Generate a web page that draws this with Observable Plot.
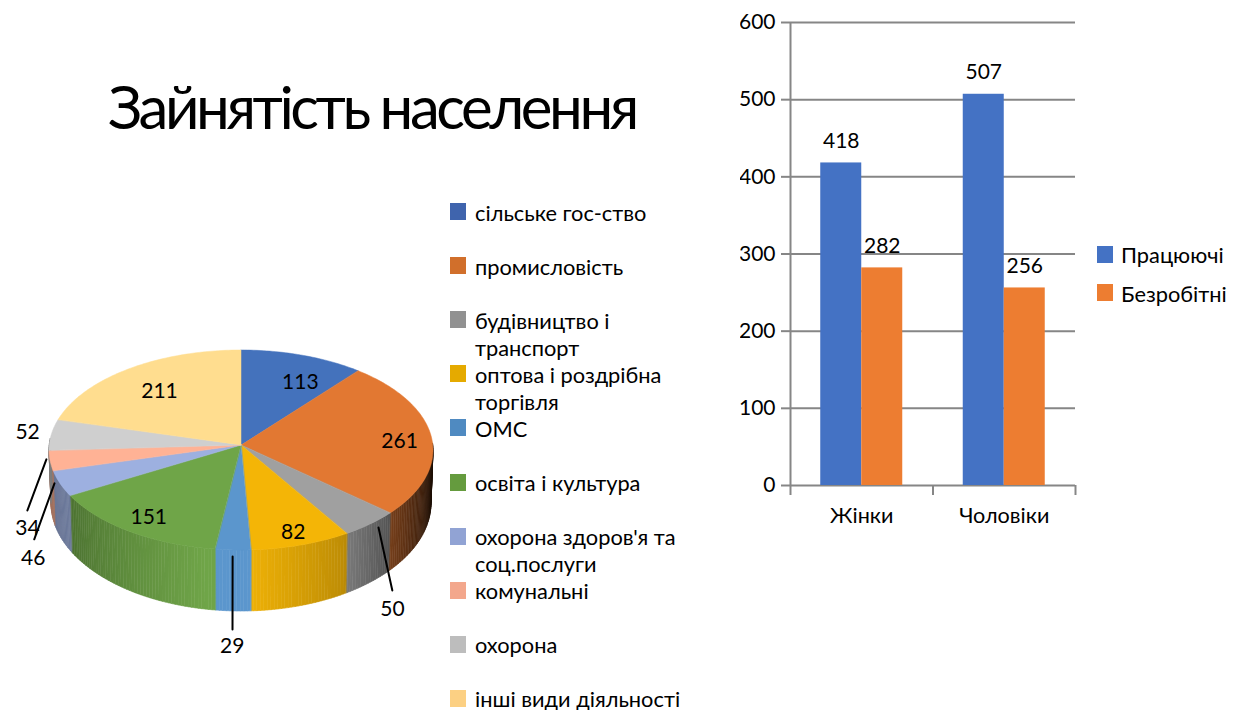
<!DOCTYPE html>
<html lang="uk">
<head>
<meta charset="utf-8">
<script src="https://cdn.jsdelivr.net/npm/d3@7"></script>
<script src="https://cdn.jsdelivr.net/npm/@observablehq/plot@0.6"></script>
<style>
  html, body { margin: 0; padding: 0; background: #fff; }
  body { position: relative; width: 1239px; height: 710px; overflow: hidden; font-family: Lato, "Open Sans", "Noto Sans", sans-serif; color: #000; }
  .abs { position: absolute; }
  #title { left: 108px; top: 68px; font-size: 60px; line-height: 76px; letter-spacing: -3.45px; white-space: nowrap; font-weight: 400; }
  .lg { position: absolute; font-size: 21.8px; line-height: 27px; white-space: nowrap; }
  .sw { position: absolute; width: 16px; height: 17px; }
  svg text { font-family: Lato, "Open Sans", "Noto Sans", sans-serif; }
</style>
</head>
<body>
<div id="title" class="abs">Зайнятість населення</div>
<div id="pie" class="abs" style="left:0;top:330px"></div>
<div id="pieLegend"></div>
<div id="bars" class="abs" style="left:740px;top:0"></div>
<div id="barLegend"></div>
<script>
// ---- Pie data ----
const sectors = ["сільське гос-ство", "промисловість", "будівництво і транспорт", "оптова і роздрібна торгівля", "ОМС", "освіта і культура", "охорона здоров'я та соц.послуги", "комунальні", "охорона", "інші види діяльності"];
const sectorLines = [["сільське гос-ство"], ["промисловість"], ["будівництво і", "транспорт"], ["оптова і роздрібна", "торгівля"], ["ОМС"], ["освіта і культура"], ["охорона здоров'я та", "соц.послуги"], ["комунальні"], ["охорона"], ["інші види діяльності"]];
const employed = [113, 261, 50, 82, 29, 151, 46, 34, 52, 211];
const topColors = ["#4472bc", "#e27832", "#a0a0a0", "#f4b506", "#5b96cd", "#6fa548", "#9db0e0", "#ffb295", "#cfcfcf", "#ffdd8f"];
const swatchColors = ["#3f64ad", "#d16f2b", "#919191", "#e5aa00", "#4f8ac1", "#659b3e", "#91a3d4", "#f3a78c", "#bdbdbd", "#fcd083"];

// ---- Bar data ----
const genders = ["Жінки", "Чоловіки"];
const working = [418, 507];
const jobless = [282, 256];
const barSeries = ["Працюючі", "Безробітні"];
const barColors = ["#4472c4", "#ed7d31"];
const yTicks = [0, 100, 200, 300, 400, 500, 600];

// ---- Label placement relative to each slice: [degrees from mid-angle, radius]
const labelPolar = [[4.5, .746], [-1.4, .828], [14.1, 1.774], [-.9, .863], [-.7, 1.96], [2.2, .826], [-22.9, 1.53], [-27, 1.36], [2.2, 1.129], [1, .728]];
const leaders = { 2: [[-2.4, 1.05], [11.1, 1.605]], 4: [[.4, 1.06], [-.6, 1.79]], 6: [[3.3, 1.028], [-17.5, 1.398]], 7: [[3, 1.02], [-20.3, 1.266]] };

// ---- Pie geometry from the values ----
const total = d3.sum(employed);
const rad = d => d * Math.PI / 180;
let run = 0;
const slices = employed.map((v, i) => {
  const a0 = run / total * 360; run += v;
  return { i, v, name: sectors[i], a0, a1: run / total * 360, mid: (a0 + run / total * 360) / 2, color: topColors[i] };
});
// slight perspective distortion of the tilted disc
const warp = d3.scaleLinear().domain([0, 40, 150, 177, 187, 240, 256, 286, 360]).range([0, -1.9, -1.8, 0, .6, 3, 2, 1.6, 0]);
const seen = a => rad(a + warp(a));
const rimTop = a => ({ x: Math.sin(seen(a)), y: -Math.cos(seen(a)) });
const rimBottom = a => ({ x: Math.sin(seen(a)) * 190 / 192, y: .53 - 1.08 * Math.cos(seen(a)) });
const polar = (s, [turn, r]) => ({ x: r * Math.sin(rad(s.mid + turn)), y: -r * Math.cos(rad(s.mid + turn)) });
const shade = d3.scaleLinear().domain([88, 100, 131, 150, 178, 190, 240, 275]).range([.1, .15, .52, .78, .98, 1, .7, .6]).clamp(true);

const topPts = slices.flatMap(s => d3.range(s.a0, s.a1, 1).concat(s.a1).map(a => ({ ...rimTop(a), name: s.name, color: s.color })));
const wallStrips = [];
for (const s of slices) {
  const from = Math.max(s.a0, 88), to = Math.min(s.a1, 275);
  if (to <= from) continue;
  const steps = d3.range(from, to, 1).concat(to);
  for (let k = 0; k + 1 < steps.length; k++) {
    const mid = (steps[k] + steps[k + 1]) / 2;
    const fill = s.i === 4 ? s.color : d3.interpolateRgb("#000", s.color)(shade(mid));
    for (const a of [steps[k], steps[k + 1]]) {
      const t = rimTop(a), b = rimBottom(a);
      wallStrips.push({ id: s.i + "-" + k, x1: t.x, y1: t.y, x2: b.x, y2: b.y, fill });
    }
  }
}
const labels = slices.map(s => ({ ...polar(s, labelPolar[s.i]), v: s.v }));
const leaderPts = Object.entries(leaders).flatMap(([i, ends]) => ends.map(e => ({ ...polar(slices[+i], e), id: i })));

document.getElementById("pie").append(Plot.plot({
  width: 440, height: 330, margin: 0,
  x: { domain: [-241 / 192, 199 / 192], range: [0, 440], axis: null },
  y: { domain: [-1.2, 2.1], range: [0, 330], axis: null },
  marks: [
    Plot.area(wallStrips, { x1: "x1", y1: "y1", x2: "x2", y2: "y2", z: "id", fill: "fill", stroke: "fill", strokeWidth: .6 }),
    Plot.area(topPts, { x1: "x", y1: "y", x2: () => 0, y2: () => -.05, z: "name", fill: "color", stroke: "color", strokeWidth: .5 }),
    Plot.line(leaderPts, { x: "x", y: "y", z: "id", stroke: "#000", strokeWidth: 2 }),
    Plot.text(labels, { x: "x", y: "y", text: "v", fontSize: 21, fill: "#000" })
  ]
}));

// ---- Pie legend ----
const pieLegend = document.getElementById("pieLegend");
const legendTop = 203, legendStep = 54.1;
sectorLines.forEach((lines, i) => {
  const y = legendTop + i * legendStep;
  const sw = document.createElement("div");
  sw.className = "sw"; sw.style.cssText = `left:450px;top:${y}px;background:${swatchColors[i]}`;
  pieLegend.append(sw);
  const t = document.createElement("div");
  t.className = "lg"; t.style.cssText = `left:475px;top:${y - 4.5}px`;
  t.innerHTML = lines.join("<br>");
  pieLegend.append(t);
});

// ---- Bars ----
const barW = 41 / 142.5;
const barRows = genders.flatMap((g, i) => [
  { g, series: barSeries[0], v: working[i], x1: i + .5 - barW, x2: i + .5, color: barColors[0] },
  { g, series: barSeries[1], v: jobless[i], x1: i + .5, x2: i + .5 + barW, color: barColors[1] }
]);
const axisGrey = "#868686";
document.getElementById("bars").append(Plot.plot({
  width: 499, height: 530,
  marginLeft: 50, marginRight: 164, marginTop: 22, marginBottom: 45,
  x: { domain: [0, 2], axis: null },
  y: { domain: [0, 600], axis: null },
  marks: [
    Plot.ruleY(yTicks, { x1: 0, x2: 2, stroke: axisGrey, strokeWidth: 2 }),
    Plot.ruleX([0], { stroke: axisGrey, strokeWidth: 2 }),
    Plot.axisY({ ticks: yTicks, tickSize: 9, tickPadding: 6, stroke: axisGrey, strokeWidth: 2, fill: "#000", fontSize: 21, tickFormat: d => d, label: null }),
    Plot.axisX({ ticks: [0, 1, 2], tickSize: 10, stroke: axisGrey, strokeWidth: 2, tickFormat: () => "", label: null }),
    Plot.axisX({ ticks: [.5, 1.5], tickSize: 0, tickPadding: 22, fill: "#000", fontSize: 21.6, tickFormat: d => genders[Math.floor(d)], label: null }),
    Plot.rectY(barRows, { x1: "x1", x2: "x2", y: "v", fill: "color" }),
    Plot.text(barRows, { x: d => (d.x1 + d.x2) / 2, y: "v", text: "v", dy: -22, fontSize: 21, fill: "#000" })
  ]
}));

const barLegend = document.getElementById("barLegend");
barSeries.forEach((s, i) => {
  const y = 245.5 + i * 38.5;
  const sw = document.createElement("div");
  sw.className = "sw"; sw.style.cssText = `left:1097px;top:${y}px;background:${barColors[i]}`;
  barLegend.append(sw);
  const t = document.createElement("div");
  t.className = "lg"; t.style.cssText = `left:1121px;top:${y - 4.5}px`;
  t.textContent = s;
  barLegend.append(t);
});
</script>
</body>
</html>
